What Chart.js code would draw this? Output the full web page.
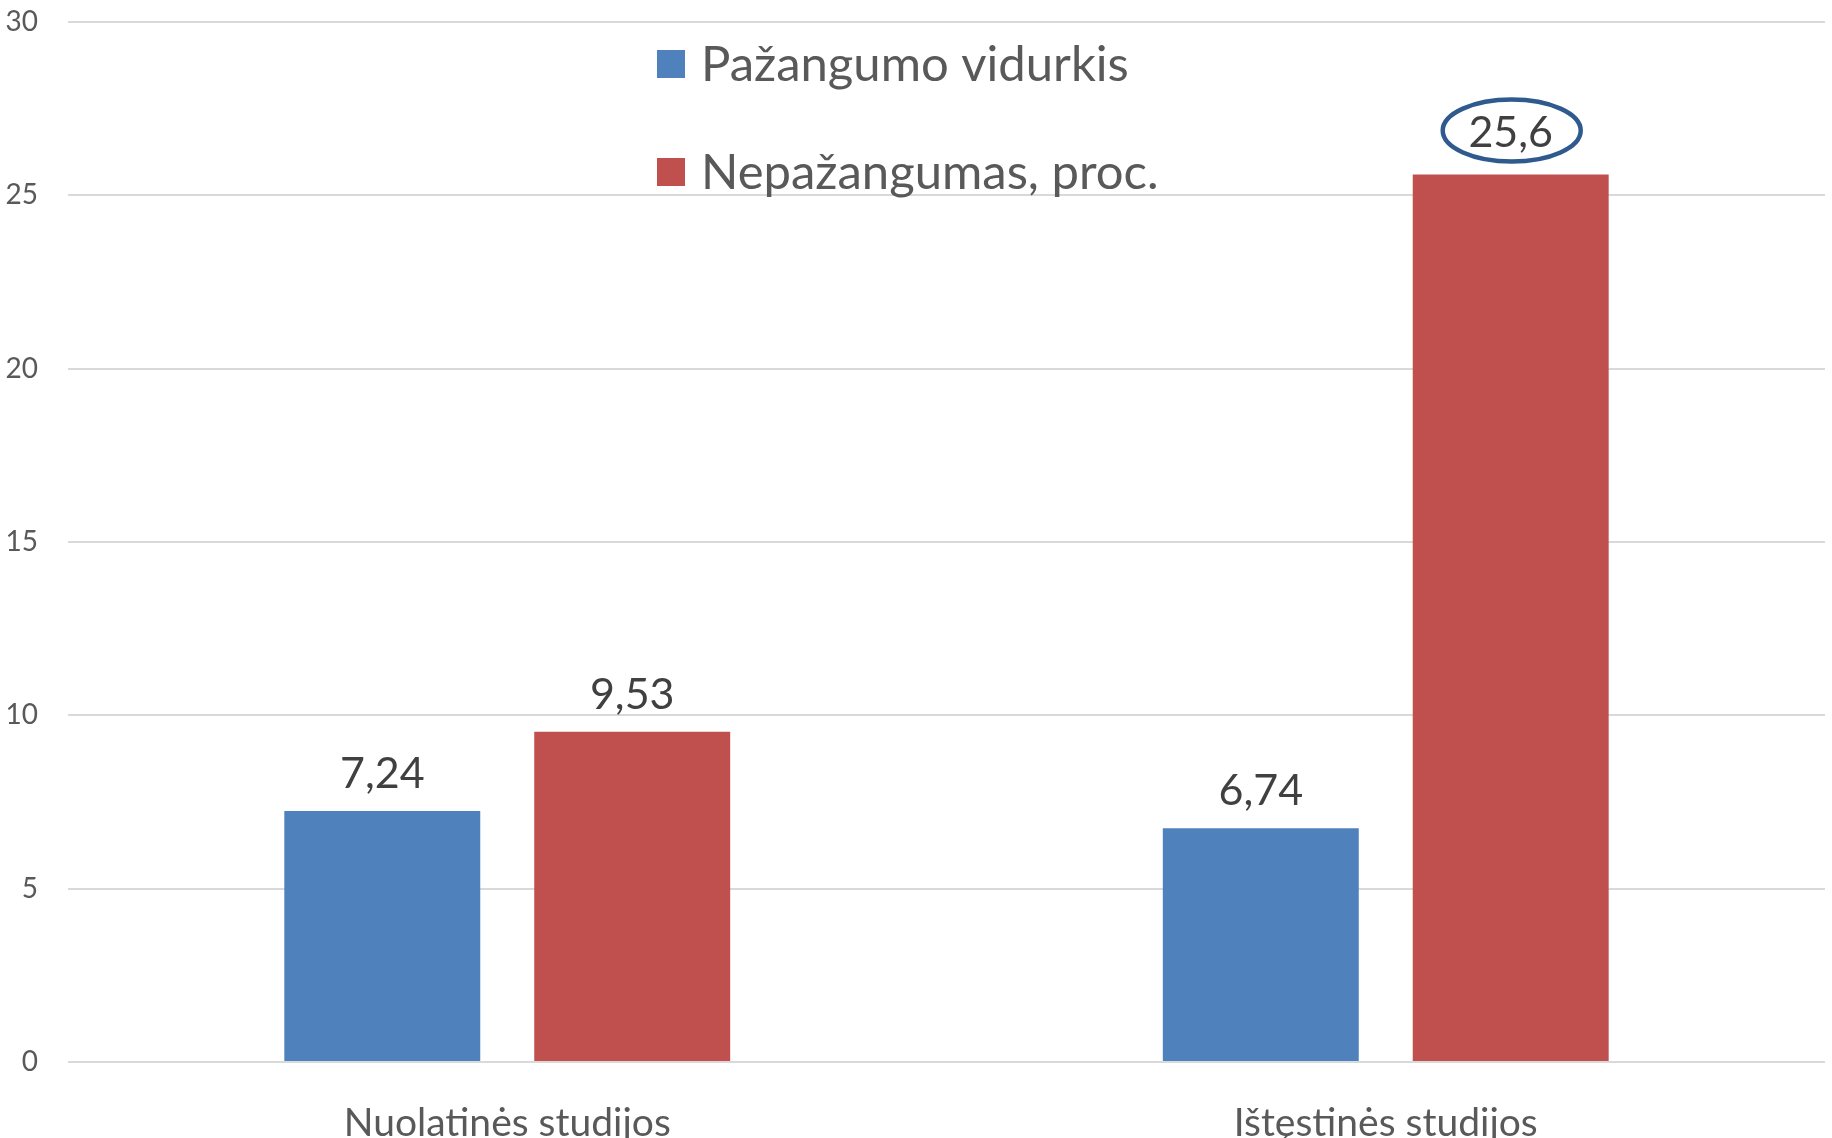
<!DOCTYPE html>
<html>
<head>
<meta charset="utf-8">
<script src="https://cdn.jsdelivr.net/npm/chart.js@4.4.0/dist/chart.umd.min.js"></script>
<style>
  html, body { margin: 0; padding: 0; background: #fff; overflow: hidden; }
  canvas { display: block; }
</style>
</head>
<body>
<canvas id="chart" width="1832" height="1138"></canvas>
<script>
/* ── Data ─────────────────────────────────────────────── */
const CATEGORIES   = ['Nuolatinės studijos', 'Ištęstinės studijos'];
const SERIES_NAMES = ['Pažangumo vidurkis', 'Nepažangumas, proc.'];
const AVG_VALUES   = [7.24, 6.74];
const FAIL_VALUES  = [9.53, 25.6];
const Y_TICKS      = [0, 5, 10, 15, 20, 25, 30];
// which bar gets the circled label: [datasetIndex, index]
const HIGHLIGHT    = [1, 1];

/* ── Style ────────────────────────────────────────────── */
const FONT   = "Lato, 'Open Sans', sans-serif";
const BLUE   = '#4F81BD';
const RED    = '#C0504D';
const GRID   = '#D9D9D9';
const TXT    = '#595959';
const TXT_DK = '#404040';
const RING   = '#2F5A8E';

const fmt = v => String(v).replace('.', ',');

/* ── Value labels above bars (+ ring round one of them) ─ */
const valueLabels = {
    id: 'valueLabels',
    afterDatasetsDraw(chart) {
        const ctx = chart.ctx;
        ctx.save();
        ctx.font = `43px ${FONT}`;
        ctx.fillStyle = TXT_DK;
        ctx.textAlign = 'center';
        ctx.textBaseline = 'alphabetic';
        chart.data.datasets.forEach((ds, di) => {
            const meta = chart.getDatasetMeta(di);
            meta.data.forEach((bar, i) => {
                const hl = di === HIGHLIGHT[0] && i === HIGHLIGHT[1];
                const base = bar.y - (hl ? 28 : 23);
                ctx.fillText(fmt(ds.data[i]), bar.x, base);
                if (hl) {
                    ctx.beginPath();
                    ctx.ellipse(bar.x + 1, base - 16, 69, 31, 0, 0, Math.PI * 2);
                    ctx.lineWidth = 4.5;
                    ctx.strokeStyle = RING;
                    ctx.stroke();
                }
            });
        });
        ctx.restore();
    }
};

/* ── Legend drawn inside the plot, stacked ───────────── */
const insideLegend = {
    id: 'insideLegend',
    afterDraw(chart) {
        const ctx = chart.ctx;
        ctx.save();
        ctx.font = `49px ${FONT}`;
        ctx.textBaseline = 'middle';
        ctx.textAlign = 'left';
        chart.data.datasets.forEach((ds, i) => {
            const cy = 64 + i * 108;
            ctx.fillStyle = ds.backgroundColor;
            ctx.fillRect(657, cy - 14, 28, 28);
            ctx.fillStyle = TXT;
            ctx.fillText(ds.label, 701, cy + 1);
        });
        ctx.restore();
    }
};

new Chart(document.getElementById('chart'), {
    type: 'bar',
    data: {
        labels: CATEGORIES,
        datasets: [
            { label: SERIES_NAMES[0], data: AVG_VALUES,  backgroundColor: BLUE },
            { label: SERIES_NAMES[1], data: FAIL_VALUES, backgroundColor: RED  },
        ]
    },
    options: {
        responsive:          false,
        animation:           false,
        devicePixelRatio:    1,
        categoryPercentage:  0.569,
        barPercentage:       0.784,
        layout: { padding: { top: 22, right: 7, left: 0, bottom: 0 } },
        plugins: {
            legend:  { display: false },
            tooltip: { enabled: false }
        },
        scales: {
            x: {
                afterFit: axis => {
                    axis.height = 76;
                    axis.paddingLeft = axis.paddingRight = 0;
                },
                grid:   { display: false },
                border: { display: false },
                ticks:  { color: TXT, font: { family: FONT, size: 39 }, padding: 30 }
            },
            y: {
                min: Y_TICKS[0],
                max: Y_TICKS[Y_TICKS.length - 1],
                afterBuildTicks: axis => { axis.ticks = Y_TICKS.map(v => ({ value: v })); },
                afterFit: axis => {
                    axis.width = 68;
                    axis.paddingTop = axis.paddingBottom = 0;
                },
                grid:   { color: GRID, lineWidth: 2, drawTicks: false },
                border: { display: false },
                ticks:  { color: TXT, font: { family: FONT, size: 28 }, padding: 30 }
            }
        }
    },
    plugins: [valueLabels, insideLegend]
});
</script>
</body>
</html>
